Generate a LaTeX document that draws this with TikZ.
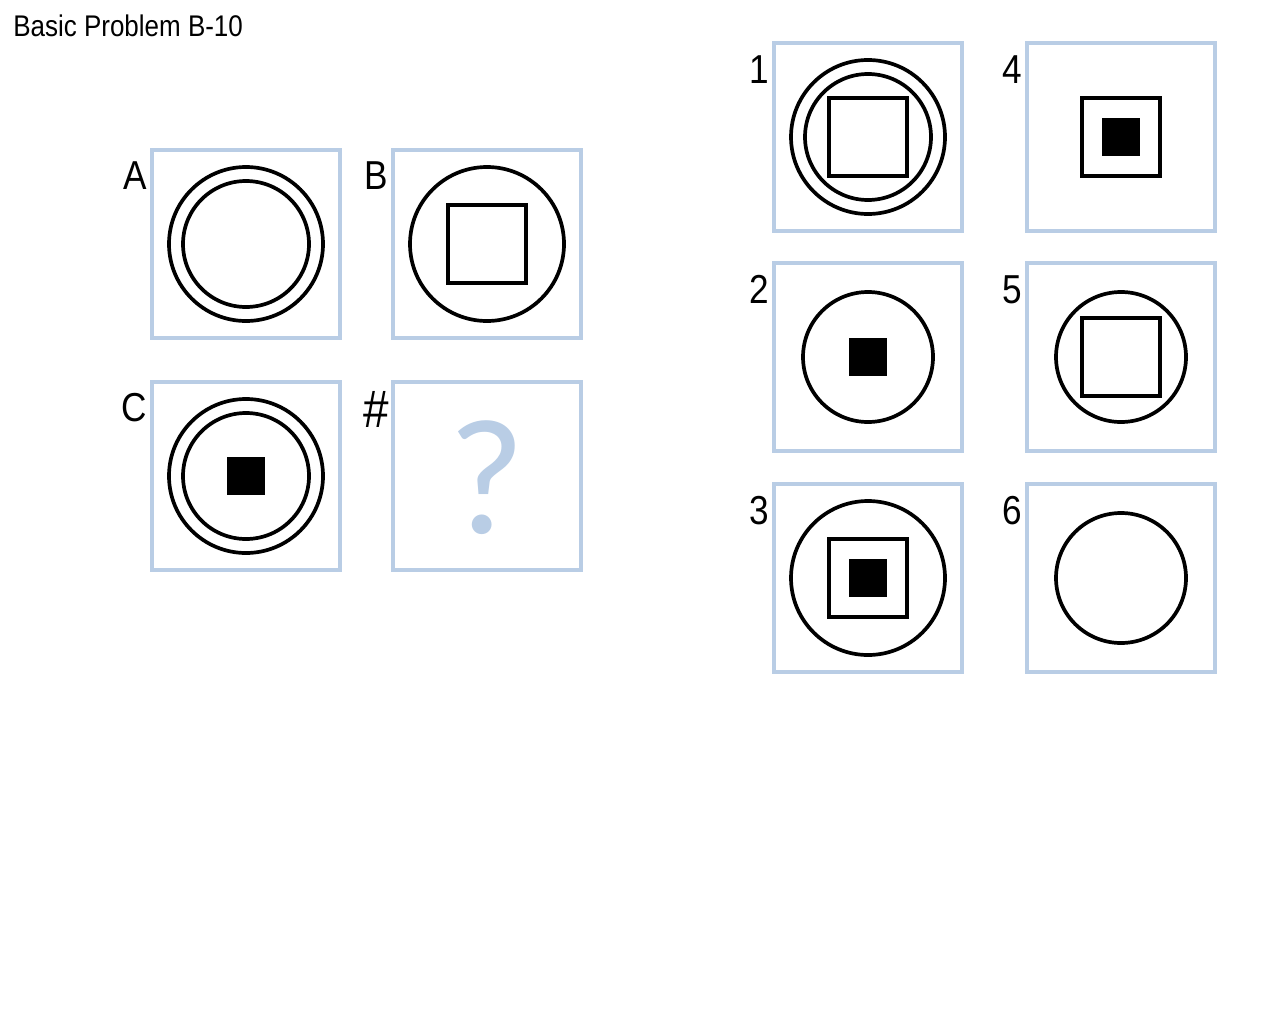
\documentclass[tikz,border=0pt]{standalone}
\usepackage{fontspec}
\setmainfont{Liberation Sans}
\newfontfamily\qfont{Carlito}
\usepackage{tikz}
\definecolor{PBFrame}{HTML}{B9CDE5}
\definecolor{PBInk}{HTML}{000000}
\tikzset{
  panel/.style={draw=PBFrame,line width=2.2pt,minimum size=188*0.02cm,inner sep=0pt},
  ink/.style={draw=PBInk,line width=2.1pt},
  tag/.style={anchor=north east,inner sep=0pt,xscale=0.87,transform shape,font=\fontsize{23}{26}\selectfont},
}
\begin{document}
\begin{tikzpicture}[x=0.02cm,y=-0.02cm]
\path[use as bounding box] (0,0) rectangle (1280,1024);
\node[anchor=base west,inner sep=0pt,xscale=0.87,transform shape,font=\fontsize{17}{20}\selectfont] (title) at (13,37) {Basic Problem B-10};
% problem matrix
\node[panel] (pA) at (246,244) {};
\node[panel] (pB) at (487,244) {};
\node[panel] (pC) at (246,476) {};
\node[panel] (pQ) at (487,476) {};
\node[tag] (tA) at ([xshift=-3*0.02cm,yshift=-13*0.02cm]pA.north west) {A};
\node[tag] (tB) at ([xshift=-3*0.02cm,yshift=-13*0.02cm]pB.north west) {B};
\node[tag] (tC) at ([xshift=-3*0.02cm,yshift=-13*0.02cm]pC.north west) {C};
\node[tag,font=\fontsize{30}{32}\selectfont] (tQ) at ([xshift=-2*0.02cm,yshift=-11*0.02cm]pQ.north west) {\#};
\draw[ink] (pA.center) circle (77) (pA.center) circle (63);
\draw[ink] (pB.center) circle (77);
\draw[ink] ([shift={(-39,-39)}]pB.center) rectangle ++(78,78);
\draw[ink] (pC.center) circle (77) (pC.center) circle (63);
\fill[PBInk] ([shift={(-19,-19)}]pC.center) rectangle ++(38,38);
\node[text=PBFrame,inner sep=0pt,font=\qfont\fontsize{94}{100}\selectfont] (qm) at ([yshift=-2*0.02cm]pQ.center) {?};
% answer choices
\node[panel] (p1) at (868,137) {};
\node[panel] (p4) at (1121,137) {};
\node[panel] (p2) at (868,357) {};
\node[panel] (p5) at (1121,357) {};
\node[panel] (p3) at (868,578) {};
\node[panel] (p6) at (1121,578) {};
\foreach \n in {1,...,6}
  \node[tag] (t\n) at ([xshift=-3*0.02cm,yshift=-14*0.02cm]p\n.north west) {\n};
\draw[ink] (p1.center) circle (77) (p1.center) circle (63);
\draw[ink] ([shift={(-39,-39)}]p1.center) rectangle ++(78,78);
\draw[ink] ([shift={(-39,-39)}]p4.center) rectangle ++(78,78);
\fill[PBInk] ([shift={(-19,-19)}]p4.center) rectangle ++(38,38);
\draw[ink] (p2.center) circle (65);
\fill[PBInk] ([shift={(-19,-19)}]p2.center) rectangle ++(38,38);
\draw[ink] (p5.center) circle (65);
\draw[ink] ([shift={(-39,-39)}]p5.center) rectangle ++(78,78);
\draw[ink] (p3.center) circle (77);
\draw[ink] ([shift={(-39,-39)}]p3.center) rectangle ++(78,78);
\fill[PBInk] ([shift={(-19,-19)}]p3.center) rectangle ++(38,38);
\draw[ink] (p6.center) circle (65);
\end{tikzpicture}
\end{document}
